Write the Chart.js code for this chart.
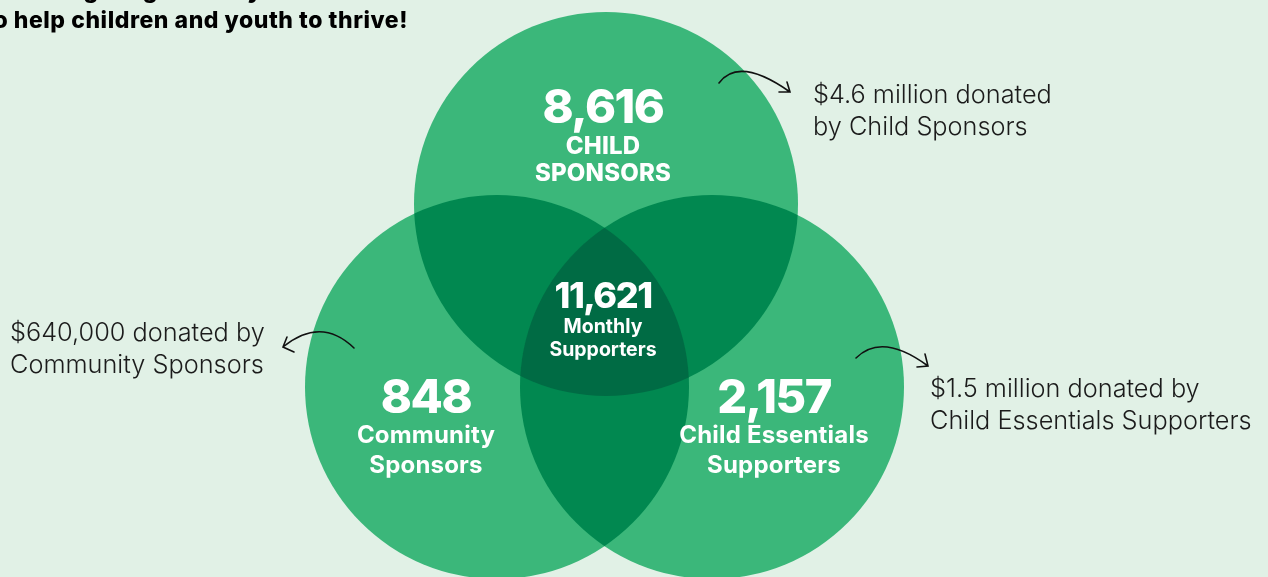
<!DOCTYPE html>
<html>
<head>
<meta charset="utf-8">
<script src="https://cdn.jsdelivr.net/npm/chart.js@4.4.0/dist/chart.umd.min.js"></script>
<style>
  body { margin: 0; background: #e1f1e6; }
  #wrap { width: 1268px; height: 577px; }
</style>
</head>
<body>
<div id="wrap"><canvas id="venn" width="1268" height="577"></canvas></div>
<script>
// groups of monthly supporters: top, left, right
const groups = ['CHILD\nSPONSORS', 'Community\nSponsors', 'Child Essentials\nSupporters'];
const counts = ['8,616', '848', '2,157'];
const totalCount = '11,621';
const totalLabel = 'Monthly\nSupporters';
const donations = [
  '$4.6 million donated\nby Child Sponsors',
  '$640,000 donated by\nCommunity Sponsors',
  '$1.5 million donated by\nChild Essentials Supporters'
];

// layout, axis units are pixels
const circleX = [606, 497, 712];
const circleY = [204, 387, 387];
const circleR = 192;

const singleColor = '#3bb77a';
const doubleColor = '#018850';
const tripleColor = '#006b44';
const boldFont = 'Inter, "Liberation Sans", sans-serif';

function circlePath(ctx, el) {
  ctx.beginPath();
  ctx.arc(el.x, el.y, el.options.radius, 0, Math.PI * 2);
}

function drawLines(ctx, text, x, y, lineHeight) {
  text.split('\n').forEach((line, i) => ctx.fillText(line, x, y + i * lineHeight));
}

// overlaps, labels and arrows on top of the bubbles
const vennPlugin = {
  id: 'venn',
  afterDatasetsDraw(chart) {
    const ctx = chart.ctx;
    const els = chart.getDatasetMeta(0).data;

    // pair overlaps
    for (let i = 0; i < 3; i++) {
      for (let j = i + 1; j < 3; j++) {
        ctx.save();
        circlePath(ctx, els[i]);
        ctx.clip();
        circlePath(ctx, els[j]);
        ctx.fillStyle = doubleColor;
        ctx.fill();
        ctx.restore();
      }
    }
    // all three
    ctx.save();
    circlePath(ctx, els[0]);
    ctx.clip();
    circlePath(ctx, els[1]);
    ctx.clip();
    circlePath(ctx, els[2]);
    ctx.fillStyle = tripleColor;
    ctx.fill();
    ctx.restore();

    ctx.save();
    ctx.fillStyle = '#ffffff';
    ctx.textAlign = 'center';
    ctx.textBaseline = 'alphabetic';

    // top circle
    let e = els[0];
    ctx.letterSpacing = '-1.5px';
    ctx.font = '800 47px ' + boldFont;
    ctx.fillText(counts[0], e.x - 3, e.y - 81);
    ctx.letterSpacing = '0.2px';
    ctx.font = '800 24px ' + boldFont;
    drawLines(ctx, groups[0], e.x - 3, e.y - 50, 27);

    // left and right circles
    const dx = [0, -71, 62];
    for (let k = 1; k < 3; k++) {
      e = els[k];
      ctx.letterSpacing = '-1.5px';
      ctx.font = '800 47px ' + boldFont;
      ctx.fillText(counts[k], e.x + dx[k], e.y + 26);
      ctx.letterSpacing = '0.2px';
      ctx.font = '700 24px ' + boldFont;
      drawLines(ctx, groups[k], e.x + dx[k], e.y + 56, 30);
    }

    // centre
    const cx = (els[0].x + els[1].x + els[2].x) / 3 - 2;
    ctx.letterSpacing = '-1.5px';
    ctx.font = '800 36px ' + boldFont;
    ctx.fillText(totalCount, cx, 308);
    ctx.letterSpacing = '0px';
    ctx.font = '700 19.5px ' + boldFont;
    drawLines(ctx, totalLabel, cx, 333, 23);
    ctx.restore();

    // donation notes
    ctx.save();
    ctx.fillStyle = '#1b1b1b';
    ctx.font = '300 25.3px Inter, "Liberation Sans", sans-serif';
    ctx.textAlign = 'left';
    drawLines(ctx, donations[0], 813, 103, 32);
    drawLines(ctx, donations[1], 10, 341, 32);
    drawLines(ctx, donations[2], 930, 397, 32);

    // curved arrows
    ctx.strokeStyle = '#111111';
    ctx.lineWidth = 1.6;
    ctx.lineCap = 'round';
    const arrows = [
      [[719, 83], [739, 56], [790, 92], [787, 82], [779, 92]],
      [[354, 348], [321, 316], [283, 347], [287, 337], [294, 352]],
      [[856, 358], [882, 332], [928, 366], [925, 354], [917, 367]]
    ];
    arrows.forEach(a => {
      ctx.beginPath();
      ctx.moveTo(a[0][0], a[0][1]);
      ctx.quadraticCurveTo(a[1][0], a[1][1], a[2][0], a[2][1]);
      ctx.moveTo(a[3][0], a[3][1]);
      ctx.lineTo(a[2][0], a[2][1]);
      ctx.lineTo(a[4][0], a[4][1]);
      ctx.stroke();
    });

    // heading (cut off at the top left)
    ctx.fillStyle = '#000000';
    ctx.font = '800 23px ' + boldFont;
    ctx.letterSpacing = '0.55px';
    ctx.textAlign = 'right';
    ctx.fillText('donors giving monthly', 262, -2);
    ctx.fillText('to help children and youth to thrive!', 408, 28);
    ctx.restore();
  }
};

const points = circleX.map((x, i) => ({ x: x, y: circleY[i], r: circleR }));

new Chart(document.getElementById('venn'), {
  type: 'bubble',
  data: {
    labels: groups,
    datasets: [{
      data: points,
      backgroundColor: singleColor,
      borderWidth: 0,
      clip: false
    }]
  },
  options: {
    responsive: false,
    animation: false,
    events: [],
    layout: { padding: 0, autoPadding: false },
    scales: {
      x: { type: 'linear', min: 0, max: 1268, display: false },
      y: { type: 'linear', min: 0, max: 577, reverse: true, display: false }
    },
    plugins: {
      legend: { display: false },
      tooltip: { enabled: false }
    }
  },
  plugins: [vennPlugin]
});
</script>
</body>
</html>
